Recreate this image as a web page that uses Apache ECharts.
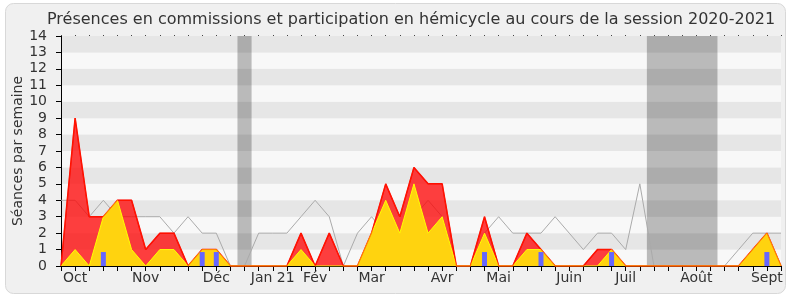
<!DOCTYPE html>
<html>
<head>
<meta charset="utf-8">
<script src="https://cdn.jsdelivr.net/npm/echarts@6/dist/echarts.min.js"></script>
<style>
html,body{margin:0;padding:0;background:#fff;}
#chart{width:790px;height:300px;}
</style>
</head>
<body>
<div id="chart"></div>
<script>
// Week index 0..51 (session Oct 2020 - Sept 2021)
const weeks = Array.from({length: 52}, (_, i) => i);
const monthTickIdx = [1, 6, 11, 15, 18, 22, 27, 31, 36, 40, 45, 50];
const monthLabels = ['Oct', 'Nov', 'Déc', 'Jan 21', 'Fév', 'Mar', 'Avr', 'Mai', 'Juin', 'Juil', 'Août', 'Sept'];
const yTicks = [0,1,2,3,4,5,6,7,8,9,10,11,12,13,14];

// Grey line: médiane des députés
const medianValues = [4,4,3,4,3,3,3,3,2,3,2,2,0,0,2,2,2,3,4,3,0,2,3,2,2,3,4,3,0,0,2,3,2,2,2,3,2,1,2,2,1,5,0,0,0,0,0,0,1,2,2,2];
// Red area: total (commissions + hémicycle)
const totalValues = [0,9,3,3,4,4,1,2,2,0,1,1,0,0,0,0,0,2,0,2,0,0,2,5,3,6,5,5,0,0,3,0,0,2,1,0,0,0,1,1,0,0,0,0,0,0,0,0,0,1,2,0];
// Yellow area: commissions
const commissionValues = [0,1,0,3,4,1,0,1,1,0,1,1,0,0,0,0,0,1,0,0,0,0,2,4,2,5,2,3,0,0,2,0,0,1,1,0,0,0,0,1,0,0,0,0,0,0,0,0,0,1,2,0];
// Blue bars: questions
const questionWeeks = [3, 10, 11, 30, 34, 39, 50];
const questionValues = [0.85, 0.85, 0.85, 0.85, 0.85, 0.85, 0.85];
// Recess periods (week ranges)
const recessRanges = [[12.5, 13.5], [41.5, 46.5]];

const FONT = 'DejaVu Sans';
const chart = echarts.init(document.getElementById('chart'), null, {renderer: 'canvas'});

const pair = arr => weeks.map(i => [i, arr[i]]);

chart.setOption({
  animation: false,
  backgroundColor: '#ffffff',
  textStyle: {fontFamily: FONT},
  graphic: [{
    type: 'rect', z: -10, silent: true,
    shape: {x: 5.5, y: 3.5, width: 780, height: 290, r: 8},
    style: {fill: '#f0f0f0', stroke: '#d8d8d8', lineWidth: 1}
  }],
  title: {
    text: 'Présences en commissions et participation en hémicycle au cours de la session 2020-2021',
    left: 42, top: 7,
    textStyle: {fontFamily: FONT, fontSize: 16, fontWeight: 'normal', color: '#333'}
  },
  grid: {left: 61, right: 9, top: 36, bottom: 34, outerBoundsMode: 'none', containLabel: false},
  xAxis: [{
    type: 'value', min: 0, max: 51, interval: 1,
    axisLine: {show: true, lineStyle: {color: '#000', width: 1}},
    axisTick: {show: true, length: 5, lineStyle: {color: '#000'}},
    splitLine: {show: false},
    axisLabel: {
      margin: 5, fontFamily: FONT, fontSize: 14, color: '#333',
      formatter: v => { const k = monthTickIdx.indexOf(v); return k >= 0 ? monthLabels[k] : ''; }
    }
  }, {
    type: 'value', min: 0, max: 51, interval: 1, position: 'top',
    axisLine: {show: false},
    axisTick: {show: true, length: 1, lineStyle: {color: '#444'}},
    axisLabel: {show: false},
    splitLine: {show: false}
  }],
  yAxis: {
    type: 'value', min: 0, max: 14, interval: 1,
    name: 'Séances par semaine', nameLocation: 'middle', nameGap: 36, nameMoveOverlap: false,
    nameTextStyle: {fontFamily: FONT, fontSize: 14, color: '#333'},
    axisLine: {show: true, lineStyle: {color: '#000'}},
    axisTick: {show: true, length: 5, lineStyle: {color: '#000'}},
    axisLabel: {margin: 14, fontFamily: FONT, fontSize: 14, color: '#333',
      formatter: v => yTicks.indexOf(v) >= 0 ? String(v) : ''},
    splitLine: {show: false},
    splitArea: {show: true, areaStyle: {color: ['#f8f8f8', '#e6e6e6']}}
  },
  series: [
    {
      name: 'médiane', type: 'line', data: pair(medianValues), symbol: 'none',
      lineStyle: {color: '#aaaaaa', width: 1}, z: 2,
      markArea: {
        silent: true,
        itemStyle: {color: 'rgba(0,0,0,0.25)'},
        data: recessRanges.map(r => [{xAxis: r[0]}, {xAxis: r[1]}])
      }
    },
    {
      name: 'total', type: 'line', data: pair(totalValues), symbol: 'none',
      lineStyle: {color: '#ff0000', width: 1.5},
      areaStyle: {color: '#ff0000', opacity: 0.75, origin: 'start'}, z: 3
    },
    {
      name: 'commissions', type: 'line', data: pair(commissionValues), symbol: 'none',
      lineStyle: {color: '#ffff00', width: 1},
      areaStyle: {color: '#ffd30f', opacity: 1, origin: 'start'}, z: 4
    },
    {
      name: 'total-line', type: 'line', data: pair(totalValues), symbol: 'none',
      lineStyle: {color: 'rgba(255,40,0,0.6)', width: 1}, z: 5
    },
    {
      name: 'questions', type: 'bar', barWidth: 5,
      data: questionWeeks.map((w, k) => [w, questionValues[k]]),
      itemStyle: {color: '#6666ff'}, z: 6
    }
  ]
});
</script>
</body>
</html>
